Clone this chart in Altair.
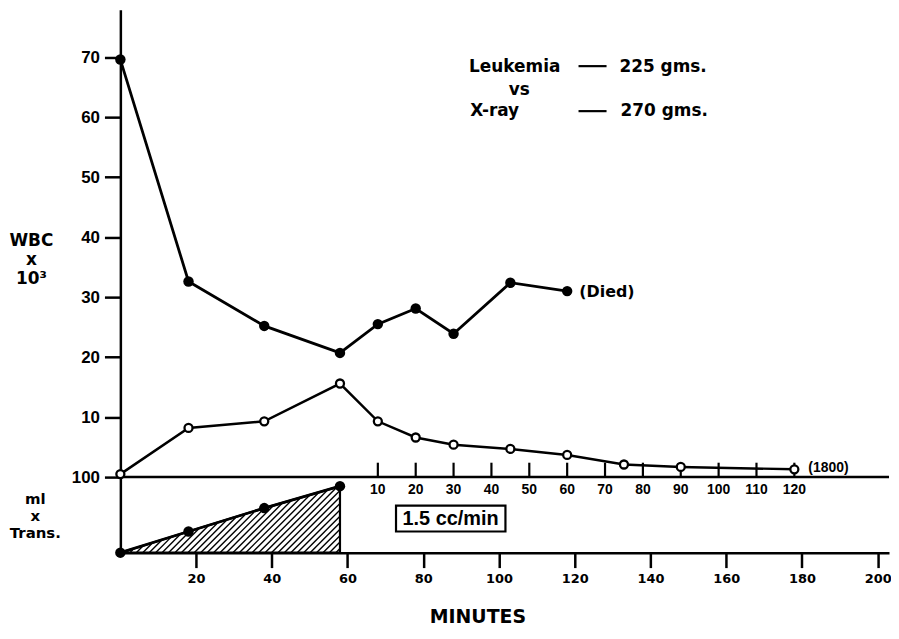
import altair as alt
import pandas as pd

# ---------------- data ----------------
pre_min = [0, 18, 38, 58]                 # minutes during the transfusion
leuk_pre = [69.6, 32.6, 25.2, 20.7]       # WBC x10^3, leukemia rat (225 gms)
xray_pre = [0.5, 8.2, 9.3, 15.6]          # WBC x10^3, X-ray rat (270 gms)
trans_ml = [0, 28, 59, 88]                # ml transfused (1.5 cc/min)

T_END = 58                                # end of transfusion (minutes)
leuk_post_min = [10, 20, 30, 45, 60]      # minutes after the transfusion
leuk_post = [25.5, 28.1, 23.9, 32.4, 31.0]
xray_post_min = [10, 20, 30, 45, 60, 75, 90, 120]
xray_post = [9.3, 6.6, 5.4, 4.7, 3.7, 2.1, 1.7, 1.3]

minute_ticks = [20, 40, 60, 80, 100, 120, 140, 160, 180, 200]
post_ticks = [10, 20, 30, 40, 50, 60, 70, 80, 90, 100, 110, 120]
wbc_ticks = [10, 20, 30, 40, 50, 60, 70]
ml_ticks = [100]

# ---------------- layout ----------------
W, H = 773, 546
X_MAX = 203
WBC_MAX = 77.9
SPLIT = 470          # pixel row where WBC 0 / ml 100 meet

BOLD = "DejaVu Sans"
LIB = "Liberation Sans"

XS = alt.Scale(domain=[0, X_MAX], nice=False, zero=False)
YW = alt.Scale(domain=[0, WBC_MAX], range=[SPLIT, 0], nice=False, zero=False)
YM = alt.Scale(domain=[0, 100], range=[H, SPLIT], nice=False, zero=False)

XA = alt.Axis(values=minute_ticks, tickSize=15, labelPadding=5, labelFont=BOLD,
              labelFontSize=13, labelFontWeight="bold", labelFlush=False,
              labelOverlap=False, grid=False, title="MINUTES", titleFont=BOLD,
              titleFontSize=19, titleFontWeight="bold", titleX=359, titleY=64,
              titleAlign="center", titleBaseline="middle")

YWA = alt.Axis(values=wbc_ticks, orient="left", tickSize=16, labelPadding=5,
               labelFont=LIB, labelFontSize=17, labelFontWeight="bold",
               grid=False, title=["WBC", "x", "10³"], titleAngle=0,
               titleAlign="center", titleBaseline="top", titleX=-90, titleY=224,
               titleLineHeight=19, titleFont=BOLD, titleFontSize=17,
               titleFontWeight="bold")

YMA = alt.Axis(values=ml_ticks, orient="left", tickSize=16, labelPadding=5,
               labelFont=LIB, labelFontSize=17, labelFontWeight="bold",
               grid=False, title=["ml", "x", "Trans."], titleAngle=0,
               titleAlign="center", titleBaseline="top", titleX=-86, titleY=485,
               titleLineHeight=17, titleFont=BOLD, titleFontSize=15,
               titleFontWeight="bold")


def xq(field):
    return alt.X(field, scale=XS, axis=XA)


def yw(field):
    return alt.Y(field, scale=YW, axis=YWA)


def ym(field):
    return alt.Y(field, scale=YM, axis=YMA)


# ---------------- tables ----------------
leuk = pd.DataFrame({"t": pre_min + [T_END + s for s in leuk_post_min],
                     "wbc": leuk_pre + leuk_post})
xray = pd.DataFrame({"t": pre_min + [T_END + s for s in xray_post_min],
                     "wbc": xray_pre + xray_post})
trans = pd.DataFrame({"t": pre_min, "ml": trans_ml})
post_axis = pd.DataFrame({"s": post_ticks})
zero_line = pd.DataFrame({"t": [0], "t2": [X_MAX], "wbc": [0]})

legend_txt = pd.DataFrame({
    "t": [92.1, 131.8, 102.6, 92.4, 132.1],
    "wbc": [68.3, 68.3, 64.6, 61.0, 61.0],
    "label": ["Leukemia", "225 gms.", "vs", "X-ray", "270 gms."],
})
legend_dash = pd.DataFrame({"t": [121.0, 121.0], "t2": [128.4, 128.4],
                            "wbc": [68.5, 61.0]})
died_txt = pd.DataFrame({"t": [121.2], "wbc": [30.8], "label": ["(Died)"]})
end_txt = pd.DataFrame({"t": [181.7], "wbc": [1.5], "label": ["(1800)"]})
box = pd.DataFrame({"t": [72.8], "t2": [101.7], "ml": [28.0], "ml2": [62.2]})
box_txt = pd.DataFrame({"t": [87.2], "ml": [45.1], "label": ["1.5 cc/min"]})

# ---------------- upper panel (WBC) ----------------
zero_rule = alt.Chart(zero_line).mark_rule(color="black", strokeWidth=2.5).encode(
    x=xq("t:Q"), x2="t2:Q", y=yw("wbc:Q"),
)

post = alt.Chart(post_axis).transform_calculate(
    t=f"datum.s + {T_END}", wbc="0", wbc2="2.4"
)
post_rule = post.mark_rule(color="black", strokeWidth=2.2).encode(
    x=xq("t:Q"), y=yw("wbc:Q"), y2="wbc2:Q",
)
post_lab = post.mark_text(font=LIB, fontSize=14, fontWeight="bold", dy=13,
                          baseline="middle", align="center", color="black").encode(
    x=xq("t:Q"), y=yw("wbc:Q"), text=alt.Text("s:Q", format="d"),
)

leuk_line = alt.Chart(leuk).mark_line(color="black", strokeWidth=2.8).encode(
    x=xq("t:Q"), y=yw("wbc:Q"),
)
leuk_pts = alt.Chart(leuk).mark_circle(color="black", size=110, opacity=1).encode(
    x=xq("t:Q"), y=yw("wbc:Q"),
)
xray_line = alt.Chart(xray).mark_line(color="black", strokeWidth=2.5).encode(
    x=xq("t:Q"), y=yw("wbc:Q"),
)
xray_pts = alt.Chart(xray).mark_point(shape="circle", fill="white", filled=True,
                                      stroke="black", strokeWidth=2.3, size=65,
                                      opacity=1, fillOpacity=1).encode(
    x=xq("t:Q"), y=yw("wbc:Q"),
)

leg_text = alt.Chart(legend_txt).mark_text(font=BOLD, fontSize=17, fontWeight="bold",
                                           align="left", baseline="middle",
                                           color="black").encode(
    x=xq("t:Q"), y=yw("wbc:Q"), text="label:N",
)
leg_dash = alt.Chart(legend_dash).mark_rule(color="black", strokeWidth=2.2).encode(
    x=xq("t:Q"), x2="t2:Q", y=yw("wbc:Q"),
)
died = alt.Chart(died_txt).mark_text(font=BOLD, fontSize=16, fontWeight="bold",
                                     align="left", baseline="middle",
                                     color="black").encode(
    x=xq("t:Q"), y=yw("wbc:Q"), text="label:N",
)
end_lab = alt.Chart(end_txt).mark_text(font=LIB, fontSize=14, fontWeight="bold",
                                       align="left", baseline="middle",
                                       color="black").encode(
    x=xq("t:Q"), y=yw("wbc:Q"), text="label:N",
)

upper = alt.layer(zero_rule, post_rule, post_lab, leuk_line, xray_line,
                  leuk_pts, xray_pts, leg_text, leg_dash, died, end_lab)

# ---------------- lower panel (ml transfused) ----------------
PX_MIN = W / X_MAX
PX_ML = (H - SPLIT) / 100
K = PX_MIN / PX_ML                    # 45 degree hatch in pixel space
HYP = trans_ml[-1] / pre_min[-1]      # slope of the transfused volume
RATIO = HYP / (K - HYP)

hatch = alt.Chart(alt.sequence(0.8, 57.9, 1.7, as_="a")).transform_calculate(
    t="datum.a",
    ml="0",
    t2=f"min(datum.a + datum.a*{RATIO}, {T_END})",
).transform_calculate(
    ml2=f"{K}*(datum.t2 - datum.a)"
).mark_rule(color="black", strokeWidth=1.4).encode(
    x=xq("t:Q"), x2="t2:Q", y=ym("ml:Q"), y2="ml2:Q",
)

trans_area = alt.Chart(trans).mark_area(fillOpacity=0, stroke="black",
                                        strokeWidth=2.2).encode(
    x=xq("t:Q"), y=ym("ml:Q"),
)
trans_line = alt.Chart(trans).mark_line(color="black", strokeWidth=2.8).encode(
    x=xq("t:Q"), y=ym("ml:Q"),
)
trans_pts = alt.Chart(trans).mark_circle(color="black", size=110, opacity=1).encode(
    x=xq("t:Q"), y=ym("ml:Q"),
)
box_rect = alt.Chart(box).mark_rect(fill="white", stroke="black",
                                    strokeWidth=2.2).encode(
    x=xq("t:Q"), x2="t2:Q", y=ym("ml:Q"), y2="ml2:Q",
)
box_label = alt.Chart(box_txt).mark_text(font=LIB, fontSize=20, fontWeight="bold",
                                         align="center", baseline="middle",
                                         color="black").encode(
    x=xq("t:Q"), y=ym("ml:Q"), text="label:N",
)

lower = alt.layer(hatch, trans_area, trans_line, trans_pts, box_rect, box_label)

chart = alt.layer(upper, lower).resolve_scale(y="independent").properties(
    width=W, height=H,
    autosize=alt.AutoSizeParams(type="none"),
    padding={"left": 113, "top": 0, "right": 2, "bottom": 76},
    background="white",
).configure_view(stroke=None).configure_axis(
    domainColor="black", domainWidth=2.5, tickColor="black", tickWidth=2.5,
    labelColor="black", titleColor="black",
)

chart.save("out.html", embed_options={"renderer": "svg", "actions": False})
